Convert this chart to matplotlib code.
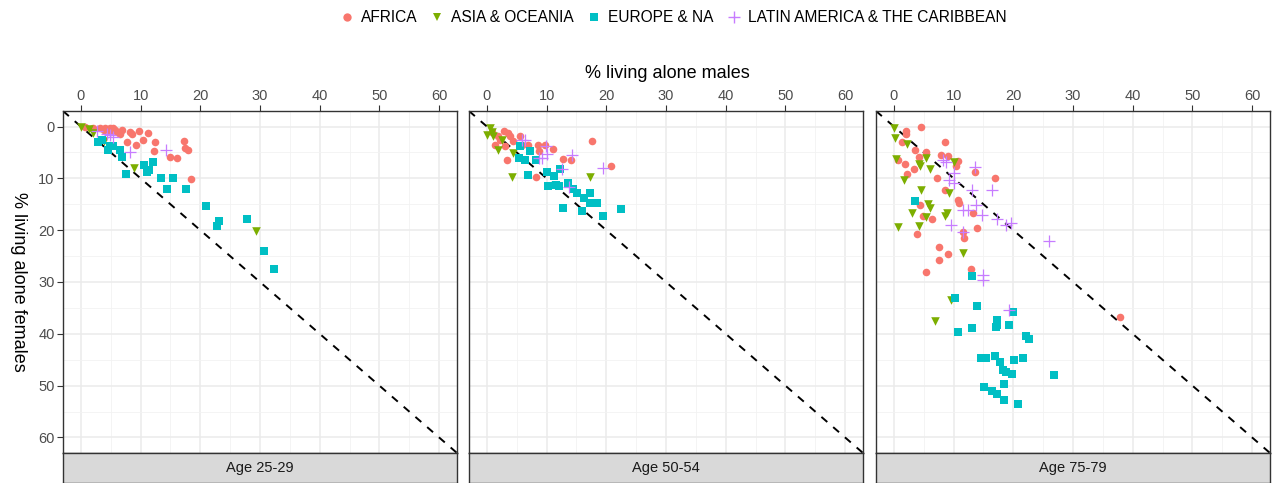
"""Share living alone, males vs females, by region and age group (facet scatter)."""

import matplotlib
matplotlib.use("Agg")
from matplotlib import pyplot as plt
from matplotlib.lines import Line2D
from matplotlib.ticker import MultipleLocator

plt.rcParams["font.family"] = ["Liberation Sans", "DejaVu Sans"]

regions = ["AFRICA", "ASIA & OCEANIA", "EUROPE & NA", "LATIN AMERICA & THE CARIBBEAN"]
age_groups = ["Age 25-29", "Age 50-54", "Age 75-79"]
ticks = [0, 10, 20, 30, 40, 50, 60]

# --- Age 25-29 -------------------------------------------------------------
africa_25_m = [0.7, 2.1, 3.2, 4.1, 4.8, 5.7, 6.8, 6.6, 8.2, 8.5, 9.7, 11.2, 7.7, 9.2,
               10.4, 12.4, 12.2, 14.9, 16.1, 17.2, 17.4, 17.9, 18.4, 4.9, 6.0, 3.8, 5.4]
africa_25_f = [0.1, 0.3, 0.3, 0.3, 0.3, 0.6, 0.6, 1.4, 1.1, 1.4, 0.9, 1.3, 3.0, 3.5,
               2.6, 3.0, 4.8, 5.9, 6.1, 2.7, 4.2, 4.6, 10.2, 1.1, 1.1, 0.6, 0.3]
asia_25_m = [0.0, 1.3, 2.1, 3.8, 8.9, 29.3]
asia_25_f = [0.1, 0.4, 1.3, 2.8, 8.0, 20.1]
europe_25_m = [2.8, 3.5, 4.6, 5.4, 6.6, 6.9, 7.6, 10.6, 12.1, 11.1, 11.4, 13.4, 15.4,
               14.4, 17.6, 20.9, 23.1, 22.8, 27.9, 30.7, 32.4, 4.9]
europe_25_f = [3.0, 2.6, 4.5, 3.8, 4.6, 5.9, 9.2, 7.4, 6.9, 8.8, 8.3, 9.9, 9.9,
               12.1, 12.0, 15.3, 18.2, 19.1, 17.9, 24.0, 27.4, 3.7]
latin_25_m = [4.3, 4.9, 2.7, 5.4, 8.2, 14.2]
latin_25_f = [1.4, 1.7, 0.8, 2.1, 4.9, 4.6]

# --- Age 50-54 -------------------------------------------------------------
africa_50_m = [0.8, 2.8, 3.6, 3.9, 2.2, 1.4, 3.0, 5.5, 5.8, 6.9, 8.6, 8.7, 9.7, 11.1,
               3.4, 12.8, 14.1, 8.2, 17.6, 20.8, 4.4, 1.9]
africa_50_f = [1.0, 0.8, 1.3, 1.9, 2.6, 3.5, 3.7, 1.9, 3.5, 3.5, 3.5, 4.7, 3.5, 4.4,
               6.5, 6.3, 6.4, 9.7, 2.7, 7.6, 2.7, 1.9]
asia_50_m = [0.6, 0.0, 1.1, 1.9, 4.4, 2.5, 4.2, 17.3, 0.8]
asia_50_f = [0.3, 1.6, 1.9, 4.5, 5.1, 2.6, 9.7, 9.7, 1.0]
europe_50_m = [5.6, 5.4, 6.4, 7.3, 8.2, 6.9, 10.0, 11.2, 12.2, 10.2, 12.1, 13.6, 14.5,
               15.1, 16.3, 17.3, 17.3, 18.4, 12.7, 16.0, 19.4, 22.4, 11.6]
europe_50_f = [3.7, 6.1, 6.5, 4.8, 6.4, 9.3, 8.8, 9.5, 8.2, 11.5, 11.5, 10.9, 12.1,
               12.8, 13.8, 12.8, 14.7, 14.7, 15.7, 16.3, 17.2, 15.9, 11.2]
latin_50_m = [5.8, 6.4, 9.9, 10.1, 9.3, 8.7, 14.3, 12.6, 19.4, 13.8]
latin_50_f = [2.6, 2.6, 3.7, 5.3, 6.1, 6.1, 5.4, 8.2, 8.0, 11.7]

# --- Age 75-79 -------------------------------------------------------------
africa_75_m = [4.5, 2.0, 2.0, 1.3, 8.6, 3.6, 5.4, 7.9, 9.0, 4.2, 0.7, 1.8, 3.4, 2.2,
               10.7, 10.4, 13.6, 16.9, 7.3, 8.6, 10.7, 10.9, 4.3, 4.8, 6.4, 13.3,
               14.0, 3.9, 11.5, 11.7, 7.6, 9.1, 7.5, 5.4, 12.9, 37.8]
africa_75_f = [0.1, 0.8, 1.5, 2.9, 3.0, 4.5, 4.9, 5.4, 5.7, 5.9, 6.4, 7.3, 8.1, 9.2,
               6.7, 7.7, 8.7, 9.9, 9.9, 12.3, 14.2, 14.7, 15.2, 17.2, 17.9, 16.7,
               19.5, 20.8, 20.3, 21.5, 23.2, 24.6, 25.8, 28.1, 27.4, 36.7]
asia_75_m = [0.0, 0.2, 2.2, 0.3, 4.2, 4.4, 5.4, 6.1, 1.7, 10.1, 4.6, 9.3, 5.7, 6.0,
             3.1, 5.3, 8.9, 8.6, 0.7, 4.2, 11.6, 9.5, 6.9]
asia_75_f = [0.3, 2.2, 3.3, 6.2, 7.3, 7.7, 6.0, 8.1, 10.4, 6.9, 12.3, 12.8, 15.0, 15.8,
             16.7, 17.4, 16.7, 17.3, 19.4, 19.2, 24.5, 33.5, 37.6]
europe_75_m = [3.6, 13.0, 10.3, 14.0, 20.0, 17.2, 17.3, 17.1, 19.2, 10.7, 13.1, 22.2,
               22.6, 14.6, 15.4, 17.0, 17.8, 20.2, 21.6, 18.2, 18.8, 19.8, 26.8, 18.5,
               15.1, 16.5, 17.2, 18.4, 20.8]
europe_75_f = [14.4, 28.8, 33.1, 34.6, 35.7, 37.4, 38.3, 38.6, 38.3, 39.6, 38.8, 40.5,
               41.0, 44.6, 44.6, 44.2, 45.5, 45.1, 44.7, 47.0, 47.4, 47.7, 47.9, 49.6,
               50.3, 51.1, 51.6, 52.8, 53.5]
latin_75_m = [8.3, 8.8, 10.1, 9.2, 10.0, 13.5, 13.1, 16.4, 13.7, 11.5, 12.4, 14.8, 17.3,
              9.6, 11.6, 18.7, 19.6, 25.9, 15.0, 15.0, 19.3]
latin_75_f = [6.5, 6.9, 9.0, 10.4, 10.9, 7.9, 12.3, 12.3, 15.2, 16.2, 16.2, 17.1, 17.8,
              19.0, 20.3, 19.0, 18.6, 22.1, 28.7, 29.7, 35.5]

panels = [
    [(africa_25_m, africa_25_f), (asia_25_m, asia_25_f),
     (europe_25_m, europe_25_f), (latin_25_m, latin_25_f)],
    [(africa_50_m, africa_50_f), (asia_50_m, asia_50_f),
     (europe_50_m, europe_50_f), (latin_50_m, latin_50_f)],
    [(africa_75_m, africa_75_f), (asia_75_m, asia_75_f),
     (europe_75_m, europe_75_f), (latin_75_m, latin_75_f)],
]

colors = ["#F8766D", "#7CAE00", "#00BFC4", "#C77CFF"]
markers = ["o", "v", "s", "+"]
sizes = [30, 38, 34, 70]

W, H = 1280, 483
fig = plt.figure(figsize=(W / 100, H / 100), dpi=100)

panel_left = [63, 469, 876]
panel_w = 394
top_px, bottom_px, strip_px = 111, 453, 483

for i, (left, data) in enumerate(zip(panel_left, panels)):
    ax = fig.add_axes([left / W, 1 - bottom_px / H, panel_w / W, (bottom_px - top_px) / H])
    ax.set_xlim(-3, 63)
    ax.set_ylim(63, -3)
    ax.xaxis.set_major_locator(MultipleLocator(10))
    ax.xaxis.set_minor_locator(MultipleLocator(5))
    ax.yaxis.set_major_locator(MultipleLocator(10))
    ax.yaxis.set_minor_locator(MultipleLocator(5))
    ax.grid(True, which="major", color="#EBEBEB", linewidth=1.1)
    ax.grid(True, which="minor", color="#F2F2F2", linewidth=0.6)
    ax.set_axisbelow(True)
    for side in ax.spines.values():
        side.set_color("#333333")
        side.set_linewidth(1.0)

    ax.xaxis.tick_top()
    ax.tick_params(axis="x", which="major", top=True, bottom=False, length=4,
                   width=0.8, color="#333333", labelsize=10.5, labelcolor="#4D4D4D", pad=2)
    ax.tick_params(axis="both", which="minor", length=0)
    if i == 0:
        ax.tick_params(axis="y", which="major", length=4, width=0.8, color="#333333",
                       labelsize=10.5, labelcolor="#4D4D4D", pad=2)
    else:
        ax.tick_params(axis="y", which="major", left=False, labelleft=False)
    ax.set_xticks(ticks)
    ax.set_yticks(ticks)

    ax.axline((0, 0), slope=1, color="black", linestyle=(0, (4, 4)), linewidth=1.4, zorder=2)

    for (xs, ys), c, m, s in zip(data, colors, markers, sizes):
        if m == "+":
            ax.scatter(xs, ys, s=s, marker=m, color=c, linewidths=0.9, zorder=3)
        else:
            ax.scatter(xs, ys, s=s, marker=m, color=c, linewidths=0, zorder=3)

    sax = fig.add_axes([left / W, 1 - strip_px / H, panel_w / W, (strip_px - bottom_px) / H])
    sax.set_facecolor("#D9D9D9")
    sax.set_xticks([])
    sax.set_yticks([])
    for side in sax.spines.values():
        side.set_color("#333333")
        side.set_linewidth(1.0)
    sax.text(0.5, 0.5, age_groups[i], ha="center", va="center", fontsize=10.5,
             color="#1A1A1A", transform=sax.transAxes)

fig.text(667 / W, 1 - 73 / H, "% living alone males", ha="center", va="center", fontsize=13)
fig.text(18 / W, 1 - 282 / H, "% living alone females", ha="center", va="center",
         rotation=270, fontsize=13)

handles = [
    Line2D([], [], linestyle="none", marker=m, color=c, markersize=6 if m != "+" else 8,
           markeredgewidth=0 if m != "+" else 1.0)
    for c, m in zip(colors, markers)
]
fig.legend(handles, regions, loc="center", bbox_to_anchor=(672 / W, 1 - 18 / H),
           ncol=4, frameon=False, fontsize=11.2, handletextpad=0.3, columnspacing=0.7,
           handlelength=1.2)

fig.savefig("out.png", dpi=100)
